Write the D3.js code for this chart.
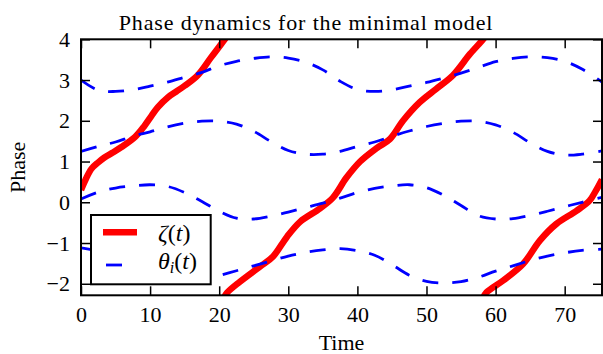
<!DOCTYPE html>
<html><head><meta charset="utf-8">
<script src="https://cdn.jsdelivr.net/npm/d3@7"></script>
<style>
body{margin:0;background:#fff}
svg{display:block}
text{font-family:"Liberation Serif","Times New Roman",serif;fill:#000}
</style>
</head><body>
<svg id="chart" width="603" height="354"></svg>
<script>
const titleText = "Phase dynamics for the minimal model";
const xLabelText = "Time";
const yLabelText = "Phase";
const xTicks = [0, 10, 20, 30, 40, 50, 60, 70];
const yTicks = [-2, -1, 0, 1, 2, 3, 4];
const xTickLabels = ["0", "10", "20", "30", "40", "50", "60", "70"];
const yTickLabels = ["\u22122", "\u22121", "0", "1", "2", "3", "4"];

// sample times for the four theta_i(t) curves
const thetaTimes = [0, 2.5, 5, 7.5, 10, 12.5, 15, 17.5, 20, 22.5, 25, 27.5, 30, 32.5, 35, 37.5,
  40, 42.5, 45, 47.5, 50, 52.5, 55, 57.5, 60, 62.5, 65, 67.5, 70, 72.5, 75.4];
const theta1 = [3.00, 2.75, 2.72, 2.76, 2.85, 2.95, 3.07, 3.19, 3.35, 3.46, 3.53, 3.57, 3.54, 3.44, 3.25, 2.97,
  2.77, 2.72, 2.76, 2.85, 2.94, 3.05, 3.17, 3.31, 3.45, 3.53, 3.57, 3.55, 3.46, 3.27, 2.95];
const theta2 = [1.25, 1.37, 1.48, 1.62, 1.73, 1.85, 1.94, 1.99, 1.99, 1.92, 1.74, 1.49, 1.27, 1.18, 1.18, 1.25,
  1.37, 1.48, 1.62, 1.75, 1.86, 1.94, 1.99, 1.99, 1.90, 1.72, 1.46, 1.25, 1.16, 1.18, 1.26];
const theta3 = [0.08, 0.25, 0.35, 0.40, 0.43, 0.39, 0.24, 0.02, -0.22, -0.39, -0.41, -0.34, -0.24, -0.13, -0.02, 0.10,
  0.24, 0.34, 0.40, 0.43, 0.36, 0.17, -0.08, -0.33, -0.41, -0.40, -0.32, -0.22, -0.11, 0.00, 0.12];
const theta4 = [-1.12, -1.20, -1.33, -1.55, -1.80, -1.95, -1.98, -1.92, -1.80, -1.68, -1.56, -1.44, -1.32, -1.23, -1.17, -1.14,
  -1.19, -1.30, -1.53, -1.79, -1.94, -1.98, -1.95, -1.84, -1.69, -1.56, -1.43, -1.32, -1.24, -1.18, -1.15];

// zeta(t), drawn wrapped into the visible phase window: three pieces
const zeta1T = [0, 0.7, 1.5, 2.5, 3.4, 4.6, 5.8, 7.8, 9.2, 10.2, 11.1, 12.6, 13.8, 15.0, 16.9, 18.8, 20.8, 21.4];
const zeta1V = [0.30, 0.57, 0.82, 0.98, 1.10, 1.22, 1.35, 1.60, 1.88, 2.12, 2.33, 2.58, 2.72, 2.86, 3.12, 3.55, 4.0, 4.15];
const zeta2T = [20.6, 21.1, 23, 25.9, 27.8, 29.8, 31.7, 34.6, 36.5, 38.4, 40.4, 42.8, 44.7, 46.6, 49, 51.4, 53.8, 56.3, 58.2, 58.7];
const zeta2V = [-2.38, -2.23, -1.95, -1.58, -1.33, -0.85, -0.48, -0.15, 0.12, 0.60, 1.00, 1.33, 1.55, 2.00, 2.45, 2.78, 3.11, 3.64, 4.0, 4.12];
const zeta3T = [58.2, 58.7, 61.1, 64, 66.4, 68.8, 71.7, 73.6, 74.5, 75.4];
const zeta3V = [-2.35, -2.21, -1.92, -1.51, -0.94, -0.53, -0.21, 0.04, 0.28, 0.56];

const legendLabels = ["ζ", "θ"];

const FONT = '"Liberation Serif","Times New Roman",serif';
const svg = d3.select("#chart");
const L = 81, R = 602, T = 39.3, B = 295.3;
const x = d3.scaleLinear().domain([0, 75.4]).range([L, R]);
const y = d3.scaleLinear().domain([4 - 2 * Math.PI, 4]).range([B, T]);

svg.append("defs").append("clipPath").attr("id", "plotclip")
  .append("rect").attr("x", L).attr("y", T).attr("width", R - L).attr("height", B - T);

const plot = svg.append("g").attr("clip-path", "url(#plotclip)");
const line = d3.line().x(d => x(d[0])).y(d => y(d[1])).curve(d3.curveCatmullRom.alpha(0.5));

[[zeta1T, zeta1V], [zeta2T, zeta2V], [zeta3T, zeta3V]].forEach(([ts, vs]) => {
  plot.append("path").datum(ts.map((t, i) => [t, vs[i]]))
    .attr("d", line).attr("fill", "none").attr("stroke", "#ff0000")
    .attr("stroke-width", 6.5).attr("stroke-linejoin", "round");
});
[theta1, theta2, theta3, theta4].forEach(vs => {
  plot.append("path").datum(thetaTimes.map((t, i) => [t, vs[i]]))
    .attr("d", line).attr("fill", "none").attr("stroke", "#0000ff")
    .attr("stroke-width", 2.8).attr("stroke-dasharray", "16,14");
});

// axes
const tick = 9;
const fmtX = (d, i) => xTickLabels[i];
const fmtY = (d, i) => yTickLabels[i];
const gx = svg.append("g").attr("transform", `translate(0,${B})`)
  .call(d3.axisBottom(x).tickValues(xTicks).tickFormat(fmtX).tickSizeInner(-tick).tickSizeOuter(0).tickPadding(10.8));
const gxt = svg.append("g").attr("transform", `translate(0,${T})`)
  .call(d3.axisTop(x).tickValues(xTicks).tickFormat("").tickSizeInner(-tick).tickSizeOuter(0));
const gy = svg.append("g").attr("transform", `translate(${L},0)`)
  .call(d3.axisLeft(y).tickValues(yTicks).tickFormat(fmtY).tickSizeInner(-tick).tickSizeOuter(0).tickPadding(11));
const gyr = svg.append("g").attr("transform", `translate(${R},0)`)
  .call(d3.axisRight(y).tickValues(yTicks).tickFormat("").tickSizeInner(-tick).tickSizeOuter(0));
[gx, gxt, gy, gyr].forEach(g => {
  g.attr("font-family", FONT).attr("font-size", 22);
  g.select(".domain").remove();
  g.selectAll(".tick line").attr("stroke", "#000").attr("stroke-width", 1.5);
  g.selectAll(".tick text").attr("font-size", 22).attr("font-family", FONT).attr("fill", "#000");
});

svg.append("rect").attr("x", L).attr("y", T).attr("width", R - L).attr("height", B - T)
  .attr("fill", "none").attr("stroke", "#000").attr("stroke-width", 2);

// labels
svg.append("text").attr("x", 306).attr("y", 30).attr("text-anchor", "middle").attr("font-family", FONT)
  .attr("font-size", 22).attr("letter-spacing", "0.85px").text(titleText);
svg.append("text").attr("x", (L + R) / 2).attr("y", 350).attr("text-anchor", "middle").attr("font-family", FONT)
  .attr("font-size", 22).text(xLabelText);
svg.append("text").attr("transform", `translate(25,${(T + B) / 2}) rotate(-90)`).attr("text-anchor", "middle")
  .attr("font-family", FONT).attr("font-size", 22).text(yLabelText);

// legend
const lg = svg.append("g").attr("font-family", FONT);
lg.append("rect").attr("x", 91).attr("y", 215).attr("width", 119.7).attr("height", 69.3)
  .attr("fill", "#fff").attr("stroke", "#000").attr("stroke-width", 2);
lg.append("line").attr("x1", 103).attr("x2", 137).attr("y1", 232.3).attr("y2", 232.3)
  .attr("stroke", "#ff0000").attr("stroke-width", 6.5);
lg.append("line").attr("x1", 106).attr("x2", 136).attr("y1", 265).attr("y2", 265)
  .attr("stroke", "#0000ff").attr("stroke-width", 2.8).attr("stroke-dasharray", "16,14");
const t1 = lg.append("text").attr("x", 158).attr("y", 240.5).attr("font-size", 24);
t1.append("tspan").attr("font-style", "italic").text(legendLabels[0]);
t1.append("tspan").text("(");
t1.append("tspan").attr("font-style", "italic").text("t");
t1.append("tspan").text(")");
const t2 = lg.append("text").attr("x", 158).attr("y", 268.5).attr("font-size", 24);
t2.append("tspan").attr("font-style", "italic").text(legendLabels[1]);
t2.append("tspan").attr("font-style", "italic").attr("font-size", 16).attr("dy", 4).text("i");
t2.append("tspan").attr("dy", -4).text("(");
t2.append("tspan").attr("font-style", "italic").text("t");
t2.append("tspan").text(")");
</script>
</body></html>
